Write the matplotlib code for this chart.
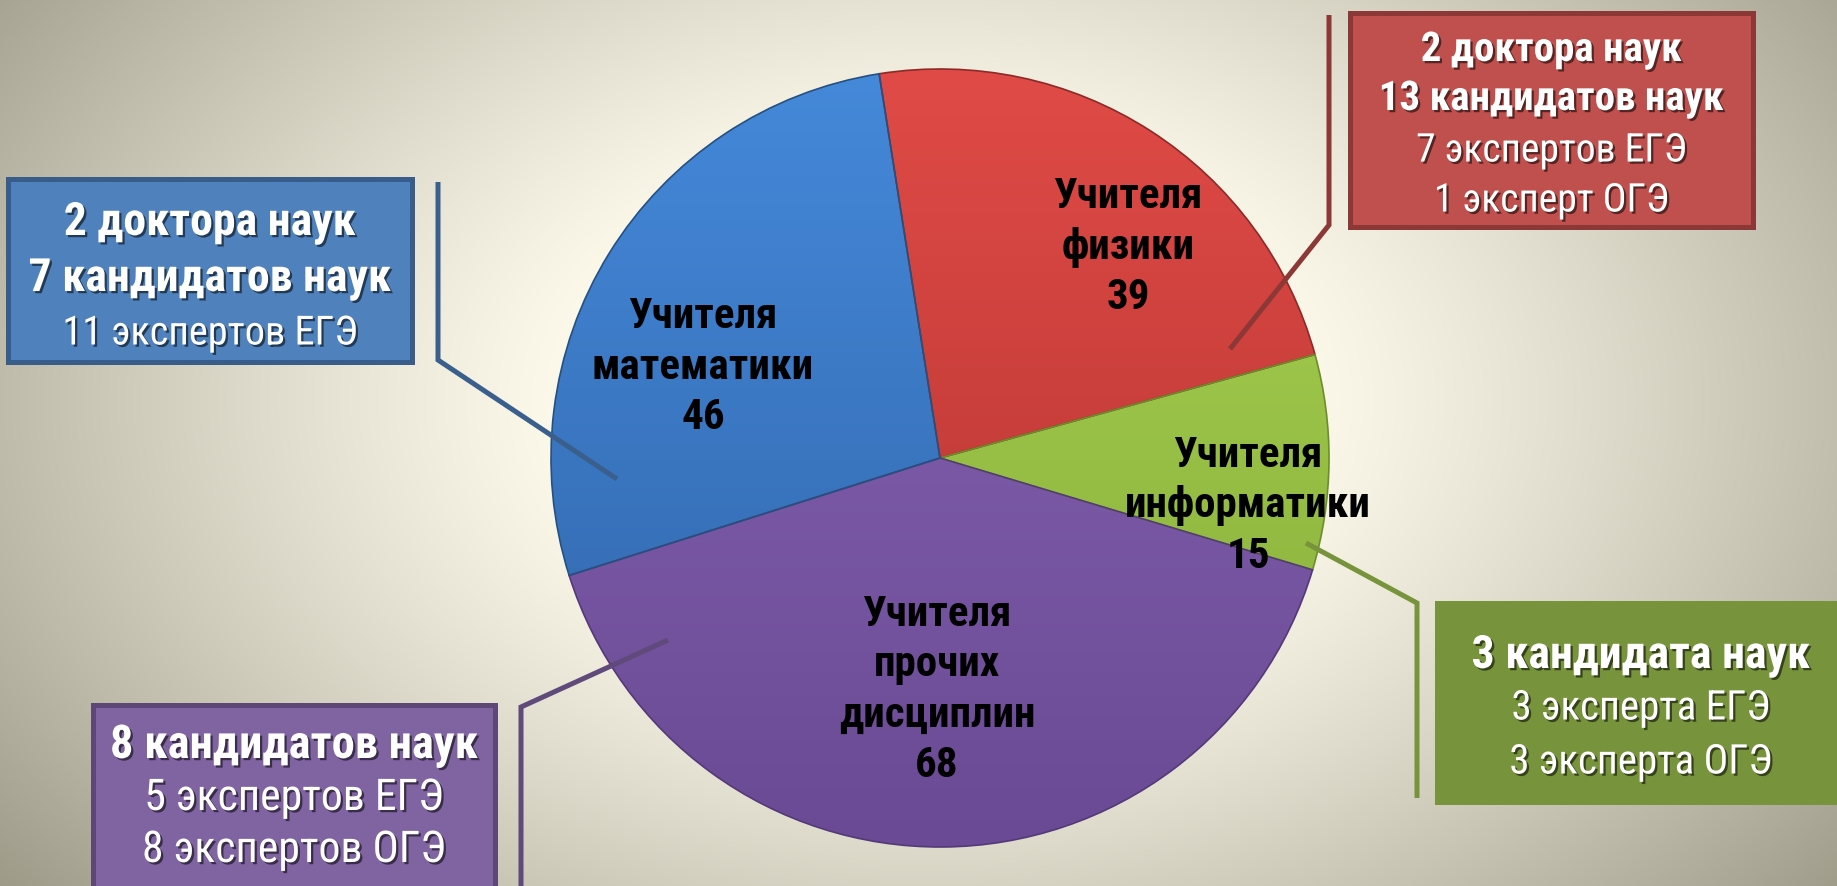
import numpy as np
import matplotlib
matplotlib.use("Agg")
import matplotlib.pyplot as plt
from matplotlib import font_manager
from matplotlib.patches import Rectangle
from matplotlib.colors import to_rgb
import matplotlib.patheffects as pe

# ---------------- data ----------------
categories = ["Учителя\nфизики", "Учителя\nинформатики",
              "Учителя\nпрочих\nдисциплин", "Учителя\nматематики"]
values = [39, 15, 68, 46]

math_notes = ["2 доктора наук", "7 кандидатов наук", "11 экспертов ЕГЭ"]
phys_notes = ["2 доктора наук", "13 кандидатов наук", "7 экспертов ЕГЭ", "1 эксперт ОГЭ"]
info_notes = ["3 кандидата наук", "3 эксперта ЕГЭ", "3 эксперта ОГЭ"]
other_notes = ["8 кандидатов наук", "5 экспертов ЕГЭ", "8 экспертов ОГЭ"]
bold_counts = [2, 2, 1, 1]  # bold leading lines per note (math, phys, info, other)

# ---------------- styling ----------------
W, H = 1837, 886
NARROW = ["Liberation Sans Narrow", "Arial Narrow", "Roboto Condensed", "Open Sans Condensed"]

def pick_font():
    for name in NARROW + ["Liberation Sans", "Roboto"]:
        try:
            font_manager.findfont(font_manager.FontProperties(family=name),
                                  fallback_to_default=False)
            return name
        except Exception:
            continue
    return "DejaVu Sans"

MAIN = pick_font()
FONT = [MAIN, "DejaVu Sans"]
plt.rcParams["font.family"] = FONT
k = 1.0 if MAIN in NARROW else 0.86

slice_top = ["#E04B47", "#A8D455", "#8A66B8", "#4589DA"]
slice_bot = ["#AE302D", "#86AA36", "#6A4A94", "#2F62A6"]
slice_edge = ["#8C2A28", "#6E8C2C", "#54397A", "#26507F"]

fig = plt.figure(figsize=(W / 100, H / 100), dpi=100)
ax = fig.add_axes([0, 0, 1, 1])

def Y(y):
    return H - y

# background radial gradient
yy, xx = np.mgrid[0:H, 0:W]
t = np.sqrt(((xx - 930) / 1120.0) ** 2 + ((yy - 400) / 740.0) ** 2)
t = np.clip((t - 0.33) / 0.75, 0, 1) ** 1.15
c0 = np.array(to_rgb("#FCF9EB"))
c1 = np.array(to_rgb("#9A9785"))
bg = c0[None, None, :] + (c1 - c0)[None, None, :] * t[..., None]
ax.imshow(bg, extent=[0, W, 0, H], origin="upper", zorder=0, interpolation="bilinear")

# pie
cx, cy, R = 940, Y(458), 389
wedges, _ = ax.pie(values, startangle=99, counterclock=False,
                   center=(cx, cy), radius=R,
                   colors=slice_top,
                   wedgeprops=dict(linewidth=1.2, zorder=2))
for w, ct, cb, ce in zip(wedges, slice_top, slice_bot, slice_edge):
    a = np.array(to_rgb(ct)); b = np.array(to_rgb(cb))
    g = np.linspace(0, 1, 256)[:, None, None]
    img = np.repeat(b + (a - b) * g, 4, axis=1)
    im = ax.imshow(img, extent=[cx - R, cx + R, cy - R, cy + R], origin="lower",
                   zorder=3, interpolation="bilinear")
    im.set_clip_path(w)
    w.set_edgecolor(ce)
    w.set_facecolor("none")
    w.set_zorder(4)

# slice labels
label_pos = [(1128, 247), (1248, 506), (937, 690), (703, 367)]
for cat, v, (lx, ly) in zip(categories, values, label_pos):
    ax.text(lx, Y(ly), f"{cat}\n{v}", ha="center", va="center", fontsize=31 * k,
            fontweight="bold", color="black", linespacing=1.3, zorder=6)

# callout boxes
shadow = [pe.withSimplePatchShadow(offset=(1.6, -1.6), shadow_rgbFace="black", alpha=0.55)]

def callout(x0, y0, x1, y1, face, edge, lines, nbold, ys, bsize, rsize, lw=3.6):
    ax.add_patch(Rectangle((x0, Y(y1)), x1 - x0, y1 - y0, facecolor=face,
                           edgecolor=edge, linewidth=lw, zorder=5))
    xc = (x0 + x1) / 2
    for i, (txt, yl) in enumerate(zip(lines, ys)):
        bold = i < nbold
        ax.text(xc, Y(yl), txt, ha="center", va="center",
                fontsize=(bsize if bold else rsize) * k,
                fontweight="bold" if bold else "normal", color="white",
                zorder=7, path_effects=shadow)

def leader(pts, color):
    ax.plot([p[0] for p in pts], [Y(p[1]) for p in pts], color=color, linewidth=3.6,
            solid_capstyle="butt", solid_joinstyle="miter", zorder=8)

# math (blue)
callout(8, 179, 412, 362, "#4F81BD", "#385D8A", math_notes, bold_counts[0],
        [222, 278, 333], 33, 29)
leader([(438, 182), (438, 360), (617, 479)], "#3B5F8C")

# physics (red)
callout(1350, 13, 1753, 227, "#C0504D", "#8C3836", phys_notes, bold_counts[1],
        [50, 99, 150, 200], 29.5, 28.5)
leader([(1329, 15), (1329, 225), (1230, 349)], "#8C3836")

# informatics (green)
callout(1437, 603, 1845, 802, "#77933C", "#77933C", info_notes, bold_counts[2],
        [655, 708, 762], 33, 29.5)
leader([(1306, 543), (1417, 603), (1417, 798)], "#77933C")

# others (purple)
callout(93, 705, 495, 900, "#8064A2", "#5C4776", other_notes, bold_counts[3],
        [745, 798, 850], 33.5, 31.5)
leader([(668, 640), (521, 707), (521, 900)], "#604A7B")

ax.set_xlim(0, W)
ax.set_ylim(0, H)
ax.set_aspect("auto")
ax.axis("off")
fig.savefig("out.png", dpi=100)
